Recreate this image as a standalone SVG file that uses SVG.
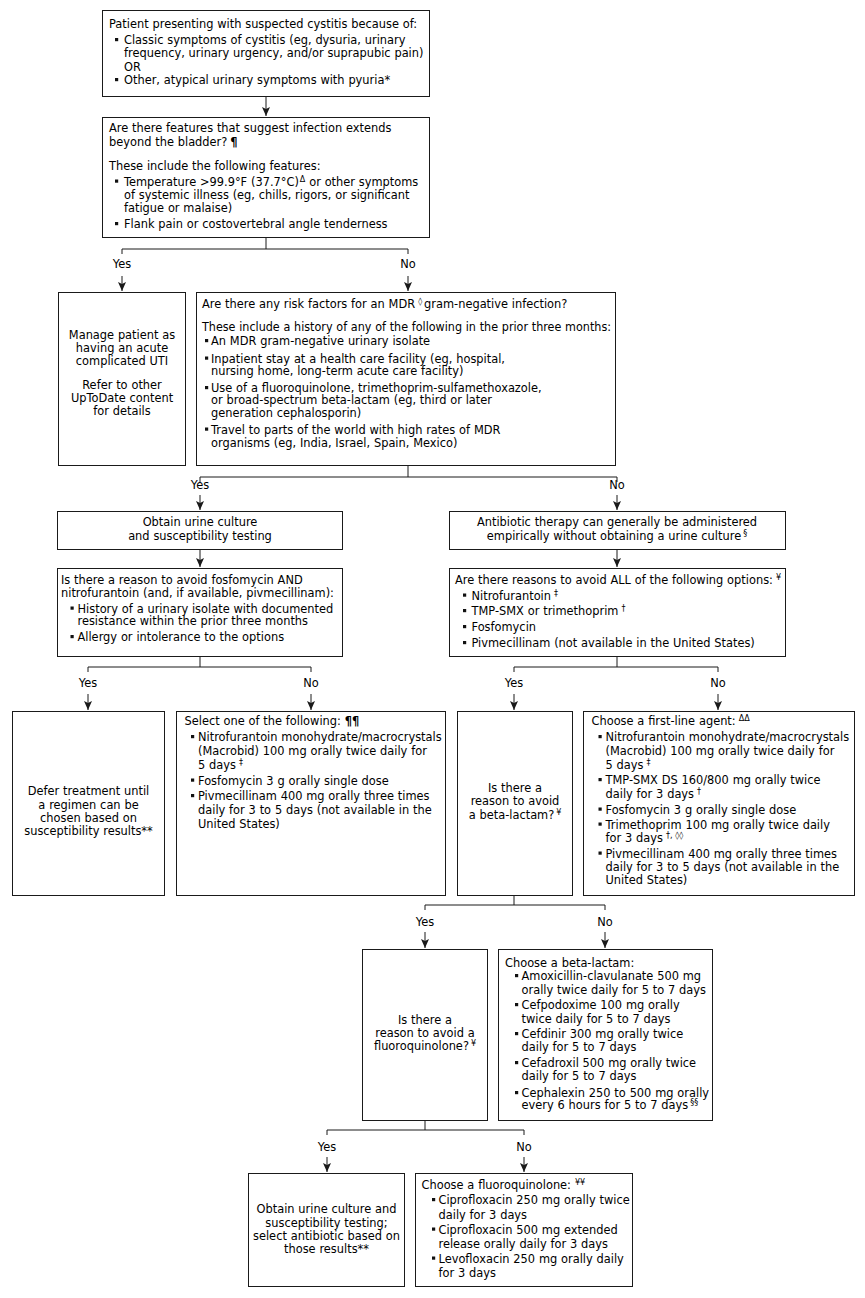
<svg xmlns="http://www.w3.org/2000/svg" xmlns:xlink="http://www.w3.org/1999/xlink" width="865" height="1298" viewBox="0 0 865 1298">
<style>
.t{font-family:"DejaVu Sans",Verdana,sans-serif;font-size:11.4px;fill:#000;word-spacing:0.2px;}
.c{text-anchor:middle;}
.sup{font-size:8px;}
.pil{font-weight:bold;}
.box{fill:#fff;stroke:#1a1a1a;stroke-width:1;}
.ln{fill:none;stroke:#1a1a1a;stroke-width:1;}
.ar{fill:none;stroke:#1a1a1a;stroke-width:1;marker-end:url(#ah);}
.blt{fill:#111;}
</style>
<defs>
<marker id="ah" markerUnits="userSpaceOnUse" markerWidth="9" markerHeight="8" viewBox="0 0 9 8" refX="9" refY="4" orient="auto">
<path d="M0,0 L9,4 L0,8 L2,4 z" fill="#1a1a1a"/>
</marker>
<rect id="b" width="3.2" height="3.2" class="blt"/>
</defs>
<rect width="865" height="1298" fill="#fff"/>

<g id="connectors">
<path class="ar" d="M266,97 V116"/>
<path class="ln" d="M266,237 V249 M122,254 V249 H408 V254"/>
<text class="t c" x="122" y="268">Yes</text>
<text class="t c" x="408" y="268">No</text>
<path class="ar" d="M122,276 V291"/>
<path class="ar" d="M408,276 V291"/>
<path class="ln" d="M408,465 V477 M200,482 V477 H617 V482"/>
<text class="t c" x="200" y="488.5">Yes</text>
<text class="t c" x="617" y="488.5">No</text>
<path class="ar" d="M200,495 V510"/>
<path class="ar" d="M617,495 V510"/>
<path class="ar" d="M200,549 V567"/>
<path class="ar" d="M617,549 V567"/>
<path class="ln" d="M200,656 V667 M88,672 V667 H311 V672"/>
<text class="t c" x="88" y="687">Yes</text>
<text class="t c" x="311" y="687">No</text>
<path class="ar" d="M88,694 V710"/>
<path class="ar" d="M311,694 V710"/>
<path class="ln" d="M617,656 V667 M514,672 V667 H718 V672"/>
<text class="t c" x="514" y="687">Yes</text>
<text class="t c" x="718" y="687">No</text>
<path class="ar" d="M514,694 V710"/>
<path class="ar" d="M718,694 V710"/>
<path class="ln" d="M514,895 V905 M425,910 V905 H605 V910"/>
<text class="t c" x="425" y="926">Yes</text>
<text class="t c" x="605" y="926">No</text>
<path class="ar" d="M425,932 V948"/>
<path class="ar" d="M605,932 V948"/>
<path class="ln" d="M425,1120 V1130 M327,1135 V1130 H524 V1135"/>
<text class="t c" x="327" y="1151">Yes</text>
<text class="t c" x="524" y="1151">No</text>
<path class="ar" d="M327,1157 V1172"/>
<path class="ar" d="M524,1157 V1172"/>
</g>

<g id="n1">
<rect class="box" x="102.5" y="10.5" width="327" height="86"/>
<text class="t" x="109" y="28">Patient presenting with suspected cystitis because of:</text>
<use href="#b" x="115" y="38"/>
<text class="t" x="124" y="44">Classic symptoms of cystitis (eg, dysuria, urinary</text>
<text class="t" x="124" y="57">frequency, urinary urgency, and/or suprapubic pain)</text>
<text class="t" x="124" y="70.5">OR</text>
<use href="#b" x="115" y="78"/>
<text class="t" x="124" y="84">Other, atypical urinary symptoms with pyuria*</text>
</g>

<g id="n2">
<rect class="box" x="102.5" y="117.5" width="327" height="120"/>
<text class="t" x="109" y="132">Are there features that suggest infection extends</text>
<text class="t" x="109" y="146">beyond the bladder?<tspan class="pil" dx="3">¶</tspan></text>
<text class="t" x="109" y="169.5">These include the following features:</text>
<use href="#b" x="115" y="179.5"/>
<text class="t" x="124" y="185.5">Temperature &gt;99.9°F (37.7°C)<tspan class="sup" dx="1" dy="-4">Δ</tspan><tspan dy="4"> or other symptoms</tspan></text>
<text class="t" x="124" y="199">of systemic illness (eg, chills, rigors, or significant</text>
<text class="t" x="124" y="212">fatigue or malaise)</text>
<use href="#b" x="115" y="222"/>
<text class="t" x="124" y="228">Flank pain or costovertebral angle tenderness</text>
</g>

<g id="n3">
<rect class="box" x="58.5" y="292.5" width="127" height="173"/>
<text class="t c" x="122" y="338.5">Manage patient as</text>
<text class="t c" x="122" y="352">having an acute</text>
<text class="t c" x="122" y="365">complicated UTI</text>
<text class="t c" x="122" y="388.5">Refer to other</text>
<text class="t c" x="122" y="402">UpToDate content</text>
<text class="t c" x="122" y="415">for details</text>
</g>

<g id="n4">
<rect class="box" x="196.5" y="292.5" width="419" height="173"/>
<text class="t" x="202" y="307.5">Are there any risk factors for an MDR<tspan class="sup" dx="3" dy="-4">◊</tspan><tspan dy="4" dx="2">gram-negative infection?</tspan></text>
<text class="t" x="202" y="331" textLength="409" lengthAdjust="spacingAndGlyphs">These include a history of any of the following in the prior three months:</text>
<use href="#b" x="205" y="339"/>
<text class="t" x="211" y="345">An MDR gram-negative urinary isolate</text>
<use href="#b" x="205" y="356.5"/>
<text class="t" x="211" y="362.5">Inpatient stay at a health care facility (eg, hospital,</text>
<text class="t" x="211" y="375">nursing home, long-term acute care facility)</text>
<use href="#b" x="205" y="386"/>
<text class="t" x="211" y="392">Use of a fluoroquinolone, trimethoprim-sulfamethoxazole,</text>
<text class="t" x="211" y="404">or broad-spectrum beta-lactam (eg, third or later</text>
<text class="t" x="211" y="417">generation cephalosporin)</text>
<use href="#b" x="205" y="427.5"/>
<text class="t" x="211" y="433.5">Travel to parts of the world with high rates of MDR</text>
<text class="t" x="211" y="447">organisms (eg, India, Israel, Spain, Mexico)</text>
</g>

<g id="n5">
<rect class="box" x="57.5" y="511.5" width="285" height="38"/>
<text class="t c" x="200" y="526">Obtain urine culture</text>
<text class="t c" x="200" y="540">and susceptibility testing</text>
</g>

<g id="n6">
<rect class="box" x="57.5" y="568.5" width="285" height="88"/>
<text class="t" x="61" y="584">Is there a reason to avoid fosfomycin AND</text>
<text class="t" x="61" y="597">nitrofurantoin (and, if available, pivmecillinam):</text>
<use href="#b" x="70.5" y="606.5"/>
<text class="t" x="77.5" y="612.5">History of a urinary isolate with documented</text>
<text class="t" x="77.5" y="625">resistance within the prior three months</text>
<use href="#b" x="70.5" y="635"/>
<text class="t" x="77.5" y="641">Allergy or intolerance to the options</text>
</g>

<g id="n7">
<rect class="box" x="449.5" y="511.5" width="336" height="38"/>
<text class="t c" x="617" y="526">Antibiotic therapy can generally be administered</text>
<text class="t c" x="617" y="540">empirically without obtaining a urine culture<tspan class="sup" dx="2" dy="-4">§</tspan></text>
</g>

<g id="n8">
<rect class="box" x="449.5" y="568.5" width="336" height="88"/>
<text class="t" x="455" y="584">Are there reasons to avoid ALL of the following options:<tspan class="sup" dx="3" dy="-4">¥</tspan></text>
<use href="#b" x="463" y="593.5"/>
<text class="t" x="471.5" y="599.5">Nitrofurantoin<tspan class="sup" dx="3" dy="-4">‡</tspan></text>
<use href="#b" x="463" y="609"/>
<text class="t" x="471.5" y="615">TMP-SMX or trimethoprim<tspan class="sup" dx="3" dy="-4">†</tspan></text>
<use href="#b" x="463" y="625"/>
<text class="t" x="471.5" y="631">Fosfomycin</text>
<use href="#b" x="463" y="641"/>
<text class="t" x="471.5" y="647">Pivmecillinam (not available in the United States)</text>
</g>

<g id="n9">
<rect class="box" x="12.5" y="711.5" width="152" height="184"/>
<text class="t c" x="88.5" y="795">Defer treatment until</text>
<text class="t c" x="88.5" y="808.5">a regimen can be</text>
<text class="t c" x="88.5" y="822">chosen based on</text>
<text class="t c" x="88.5" y="835">susceptibility results**</text>
</g>

<g id="n10">
<rect class="box" x="176.5" y="711.5" width="269" height="184"/>
<text class="t" x="184.5" y="725">Select one of the following: <tspan class="pil">¶¶</tspan></text>
<use href="#b" x="191" y="735"/>
<text class="t" x="198" y="741">Nitrofurantoin monohydrate/macrocrystals</text>
<text class="t" x="198" y="755">(Macrobid) 100 mg orally twice daily for</text>
<text class="t" x="198" y="769">5 days<tspan class="sup" dx="3" dy="-4">‡</tspan></text>
<use href="#b" x="191" y="778.5"/>
<text class="t" x="198" y="784.5">Fosfomycin 3 g orally single dose</text>
<use href="#b" x="191" y="794"/>
<text class="t" x="198" y="800">Pivmecillinam 400 mg orally three times</text>
<text class="t" x="198" y="813.5">daily for 3 to 5 days (not available in the</text>
<text class="t" x="198" y="827.5">United States)</text>
</g>

<g id="n11">
<rect class="box" x="457.5" y="711.5" width="115" height="184"/>
<text class="t c" x="515" y="792">Is there a</text>
<text class="t c" x="515" y="805">reason to avoid</text>
<text class="t c" x="515" y="818.5">a beta-lactam?<tspan class="sup" dx="2" dy="-4">¥</tspan></text>
</g>

<g id="n12">
<rect class="box" x="583.5" y="711.5" width="271" height="184"/>
<text class="t" x="591.5" y="725">Choose a first-line agent:<tspan class="sup" dx="3" dy="-4">ΔΔ</tspan></text>
<use href="#b" x="598.5" y="735"/>
<text class="t" x="605.5" y="741">Nitrofurantoin monohydrate/macrocrystals</text>
<text class="t" x="605.5" y="755">(Macrobid) 100 mg orally twice daily for</text>
<text class="t" x="605.5" y="769">5 days<tspan class="sup" dx="3" dy="-4">‡</tspan></text>
<use href="#b" x="598.5" y="778"/>
<text class="t" x="605.5" y="784">TMP-SMX DS 160/800 mg orally twice</text>
<text class="t" x="605.5" y="797.5">daily for 3 days<tspan class="sup" dx="3" dy="-4">†</tspan></text>
<use href="#b" x="598.5" y="807.5"/>
<text class="t" x="605.5" y="813.5">Fosfomycin 3 g orally single dose</text>
<use href="#b" x="598.5" y="822.5"/>
<text class="t" x="605.5" y="828.5">Trimethoprim 100 mg orally twice daily</text>
<text class="t" x="605.5" y="842">for 3 days<tspan class="sup" dx="3" dy="-4">†, ◊◊</tspan></text>
<use href="#b" x="598.5" y="851.5"/>
<text class="t" x="605.5" y="857.5">Pivmecillinam 400 mg orally three times</text>
<text class="t" x="605.5" y="871">daily for 3 to 5 days (not available in the</text>
<text class="t" x="605.5" y="884">United States)</text>
</g>

<g id="n13">
<rect class="box" x="362.5" y="949.5" width="125" height="171"/>
<text class="t c" x="425" y="1023.5">Is there a</text>
<text class="t c" x="425" y="1037">reason to avoid a</text>
<text class="t c" x="425" y="1050">fluoroquinolone?<tspan class="sup" dx="2" dy="-4">¥</tspan></text>
</g>

<g id="n14">
<rect class="box" x="498.5" y="949.5" width="214" height="171"/>
<text class="t" x="505" y="967">Choose a beta-lactam:</text>
<use href="#b" x="515" y="974"/>
<text class="t" x="521.5" y="980">Amoxicillin-clavulanate 500 mg</text>
<text class="t" x="521.5" y="993.5">orally twice daily for 5 to 7 days</text>
<use href="#b" x="515" y="1003"/>
<text class="t" x="521.5" y="1009">Cefpodoxime 100 mg orally</text>
<text class="t" x="521.5" y="1022.5">twice daily for 5 to 7 days</text>
<use href="#b" x="515" y="1032"/>
<text class="t" x="521.5" y="1038">Cefdinir 300 mg orally twice</text>
<text class="t" x="521.5" y="1051">daily for 5 to 7 days</text>
<use href="#b" x="515" y="1061"/>
<text class="t" x="521.5" y="1067">Cefadroxil 500 mg orally twice</text>
<text class="t" x="521.5" y="1080">daily for 5 to 7 days</text>
<use href="#b" x="515" y="1091"/>
<text class="t" x="521.5" y="1097">Cephalexin 250 to 500 mg orally</text>
<text class="t" x="521.5" y="1109">every 6 hours for 5 to 7 days<tspan class="sup" dx="2" dy="-4">§§</tspan></text>
</g>

<g id="n15">
<rect class="box" x="248.5" y="1173.5" width="156" height="113"/>
<text class="t c" x="326.5" y="1213">Obtain urine culture and</text>
<text class="t c" x="326.5" y="1227">susceptibility testing;</text>
<text class="t c" x="326.5" y="1240">select antibiotic based on</text>
<text class="t c" x="326.5" y="1253">those results**</text>
</g>

<g id="n16">
<rect class="box" x="415.5" y="1173.5" width="217" height="113"/>
<text class="t" x="421.5" y="1188.5">Choose a fluoroquinolone:<tspan class="sup" dx="4" dy="-4">¥¥</tspan></text>
<use href="#b" x="432" y="1198"/>
<text class="t" x="438.5" y="1204">Ciprofloxacin 250 mg orally twice</text>
<text class="t" x="438.5" y="1218.5">daily for 3 days</text>
<use href="#b" x="432" y="1227.5"/>
<text class="t" x="438.5" y="1233.5">Ciprofloxacin 500 mg extended</text>
<text class="t" x="438.5" y="1247.5">release orally daily for 3 days</text>
<use href="#b" x="432" y="1256.5"/>
<text class="t" x="438.5" y="1262.5">Levofloxacin 250 mg orally daily</text>
<text class="t" x="438.5" y="1277">for 3 days</text>
</g>
</svg>
